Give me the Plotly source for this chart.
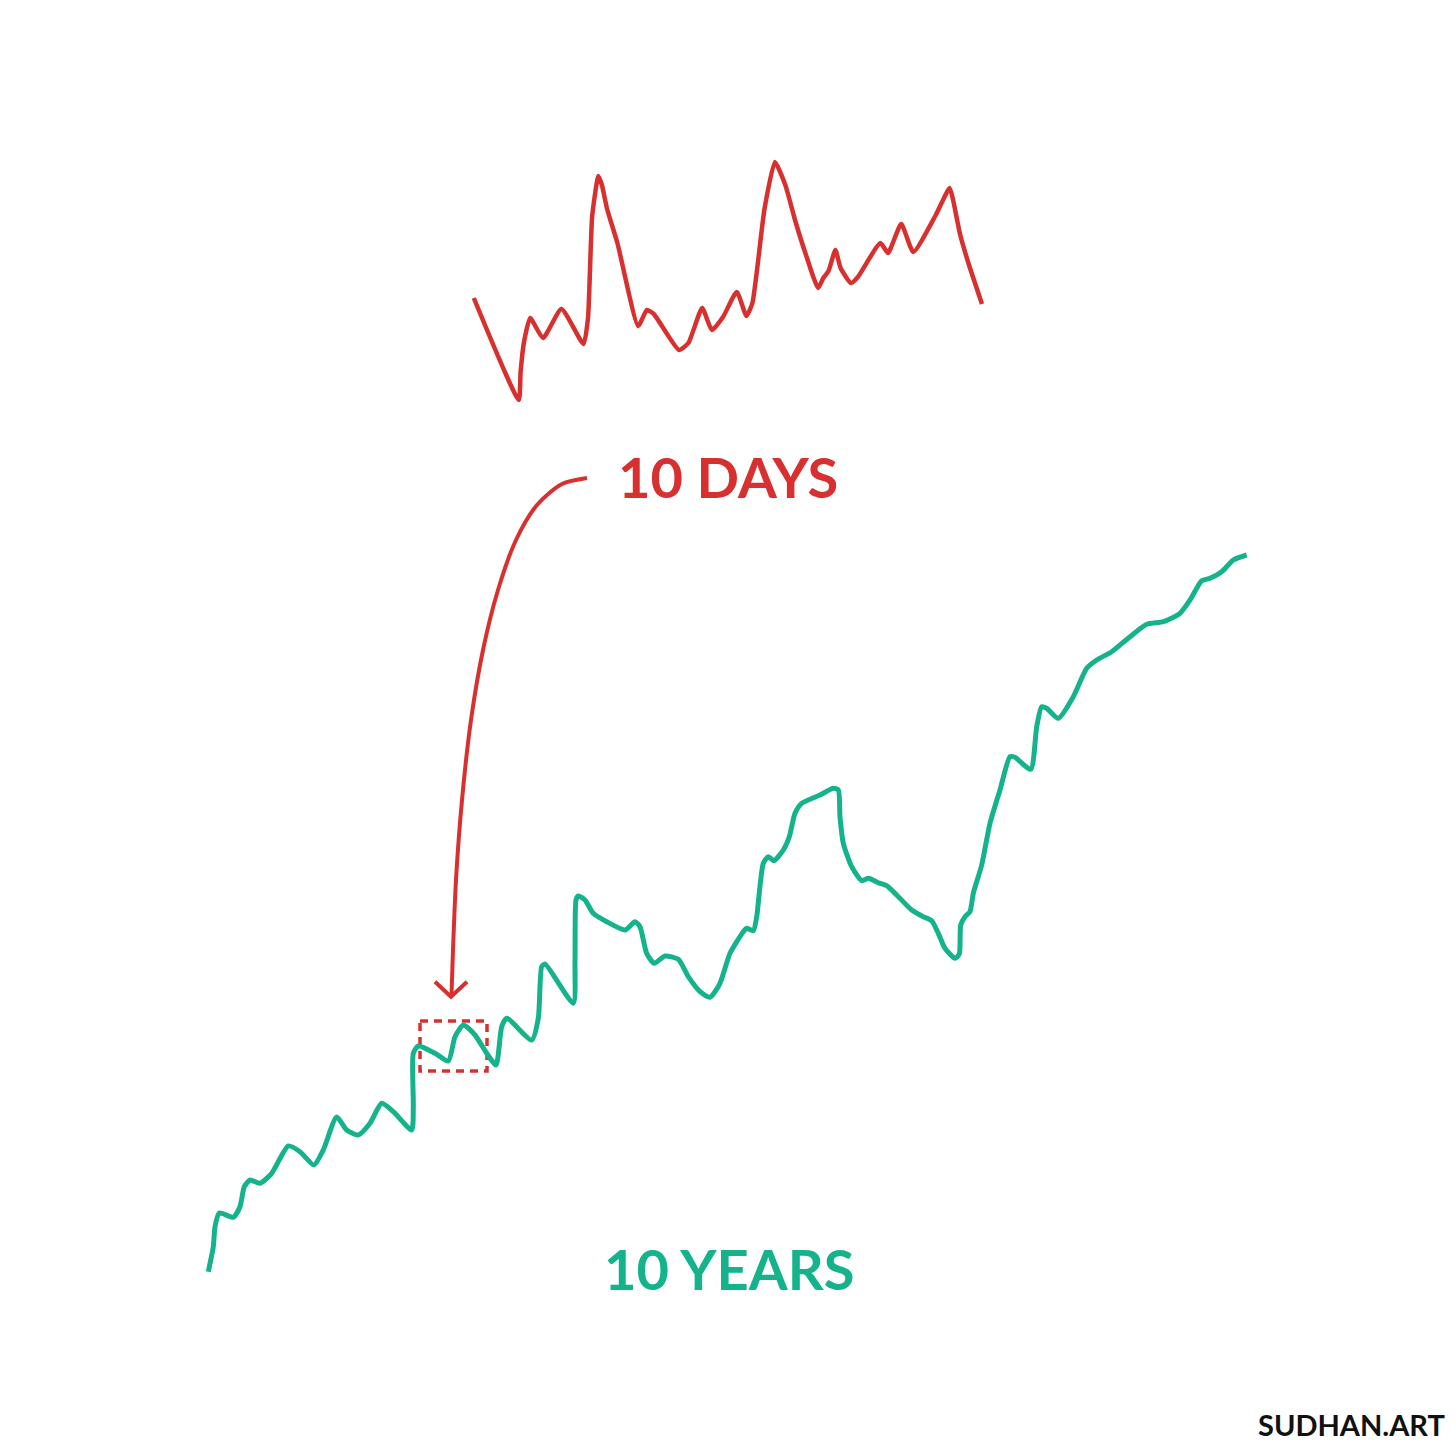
import plotly.graph_objects as go

# ---- data (pixel-space coordinates, y grows downward) ----
days_x = [473.8, 518.8, 520.6, 524.0, 530.2, 543.0, 561.4, 583.5, 588.0, 592.2, 598.4, 601.9,
          607.1, 617.4, 638.2, 646.9, 653.8, 679.0, 688.4, 702.2, 711.9, 723.0, 736.8, 746.5,
          752.4, 764.5, 774.9, 785.3, 795.6, 806.0, 818.1, 823.3, 828.5, 835.4, 840.6, 851.0,
          857.9, 880.4, 888.0, 901.2, 913.3, 935.8, 949.6, 953.1, 960.0, 968.7, 982.0]
days_y = [298.0, 400.0, 372.0, 342.0, 318.0, 338.0, 309.0, 344.0, 318.0, 216.0, 176.0, 185.0,
          209.0, 243.0, 326.0, 310.0, 314.0, 350.0, 343.0, 308.0, 330.0, 317.0, 292.0, 316.0,
          303.0, 209.0, 162.0, 185.0, 222.0, 255.0, 288.0, 278.0, 271.0, 250.0, 268.0, 283.0,
          277.0, 243.0, 253.0, 224.0, 252.0, 215.0, 188.0, 200.0, 234.0, 264.0, 304.0]

years_x = [208.3, 213.3, 215.0, 219.3, 233.3, 240.0, 244.3, 250.0, 260.0, 271.7, 288.3, 300.0,
           314.0, 323.3, 336.7, 346.7, 358.3, 370.0, 381.7, 393.3, 411.7, 413.3, 413.3, 418.3,
           435.0, 448.3, 455.0, 463.3, 475.0, 486.7, 496.0, 501.7, 506.7, 531.7, 538.3, 541.7,
           545.0, 573.3, 575.0, 576.0, 578.3, 585.0, 593.3, 606.7, 625.0, 635.0, 640.0, 646.7,
           654.3, 665.0, 678.3, 688.3, 700.0, 710.0, 720.0, 730.0, 743.3, 746.7, 753.3, 756.7,
           763.3, 768.3, 774.0, 783.3, 789.3, 795.0, 801.7, 820.0, 833.3, 838.3, 840.0, 843.3,
           851.7, 861.7, 868.3, 878.3, 886.7, 896.7, 911.7, 923.3, 931.7, 938.3, 945.0, 955.0,
           959.3, 960.7, 965.0, 970.0, 973.3, 981.7, 990.0, 1000.0, 1010.0, 1015.0, 1030.7,
           1036.7, 1041.7, 1046.7, 1058.3, 1073.3, 1086.7, 1096.7, 1111.7, 1130.0, 1146.7,
           1163.3, 1180.0, 1190.0, 1201.7, 1210.0, 1221.7, 1233.3, 1246.7]
years_y = [1271.7, 1246.7, 1226.7, 1213.0, 1217.3, 1206.7, 1186.7, 1180.0, 1183.3, 1173.3,
           1146.0, 1151.7, 1165.0, 1150.0, 1117.0, 1130.0, 1135.0, 1123.3, 1103.3, 1111.7,
           1130.0, 1106.7, 1053.3, 1046.0, 1053.3, 1061.0, 1036.7, 1025.0, 1035.0, 1053.3,
           1065.0, 1026.7, 1018.3, 1040.0, 1018.3, 966.7, 964.0, 1003.3, 960.0, 900.0, 896.0,
           900.0, 913.3, 921.7, 930.0, 921.7, 926.7, 953.3, 963.3, 956.0, 959.3, 976.7, 991.7,
           997.3, 983.3, 953.3, 931.7, 928.3, 930.7, 916.7, 863.3, 856.7, 860.7, 850.0, 836.7,
           813.3, 803.3, 795.0, 788.3, 790.0, 816.7, 843.3, 866.7, 880.7, 878.3, 882.7, 885.7,
           895.0, 910.0, 916.7, 920.7, 933.3, 948.3, 958.3, 954.0, 925.0, 916.7, 911.7, 893.3,
           865.0, 823.3, 790.0, 756.7, 757.3, 769.3, 726.7, 706.7, 708.3, 718.3, 696.7, 668.3,
           660.0, 651.7, 636.7, 624.3, 621.7, 613.3, 600.0, 580.7, 578.3, 571.7, 560.0, 555.0]

arrow_x = [587.0, 562.0, 537.0, 516.0, 498.0, 483.0, 471.0, 462.0, 456.0, 453.0, 451.5]
arrow_y = [478.0, 484.0, 505.0, 540.0, 590.0, 650.0, 720.0, 800.0, 880.0, 950.0, 995.0]
head_x = [435.0, 451.0, 467.0]
head_y = [981.7, 996.7, 981.7]

box_x = [420.0, 487.0]
box_y = [1021.0, 1071.0]

labels = ["10 DAYS", "10 YEARS", "SUDHAN.ART"]
label_x = [728.0, 729.0, 1351.0]
label_y = [476.0, 1268.0, 1424.0]

RED = "#D7302F"
TEAL = "#14B38B"

fig = go.Figure()

fig.add_trace(go.Scatter(x=years_x, y=years_y, mode="lines",
                         line=dict(color=TEAL, width=5, shape="spline", smoothing=0.6),
                         hoverinfo="skip", showlegend=False))
fig.add_trace(go.Scatter(x=days_x, y=days_y, mode="lines",
                         line=dict(color=RED, width=4.5, shape="spline", smoothing=0.5),
                         hoverinfo="skip", showlegend=False))
fig.add_trace(go.Scatter(x=arrow_x, y=arrow_y, mode="lines",
                         line=dict(color=RED, width=4, shape="spline", smoothing=0.8),
                         hoverinfo="skip", showlegend=False))
fig.add_trace(go.Scatter(x=head_x, y=head_y, mode="lines",
                         line=dict(color=RED, width=4),
                         hoverinfo="skip", showlegend=False))

fig.add_shape(type="rect", x0=box_x[0], x1=box_x[1], y0=box_y[0], y1=box_y[1],
              line=dict(color=RED, width=3.5, dash="8px,6px"), layer="below")

fonts = [dict(family="Lato", size=56, color=RED, weight="bold"),
         dict(family="Lato", size=56, color=TEAL, weight="bold"),
         dict(family="Lato", size=29, color="#111111", weight="bold")]
for t, x, y, f in zip(labels, label_x, label_y, fonts):
    fig.add_annotation(x=x, y=y, text=t, showarrow=False, xanchor="center",
                       yanchor="middle", font=f)

fig.update_xaxes(range=[0, 1456], visible=False)
fig.update_yaxes(range=[1456, 0], visible=False)
fig.update_layout(width=1456, height=1456, margin=dict(l=0, r=0, t=0, b=0),
                  paper_bgcolor="white", plot_bgcolor="white")

fig.write_html("out.html",
               config={"displayModeBar": False, "staticPlot": True},
               post_script="document.body.style.margin='0';document.body.style.overflow='hidden';")
